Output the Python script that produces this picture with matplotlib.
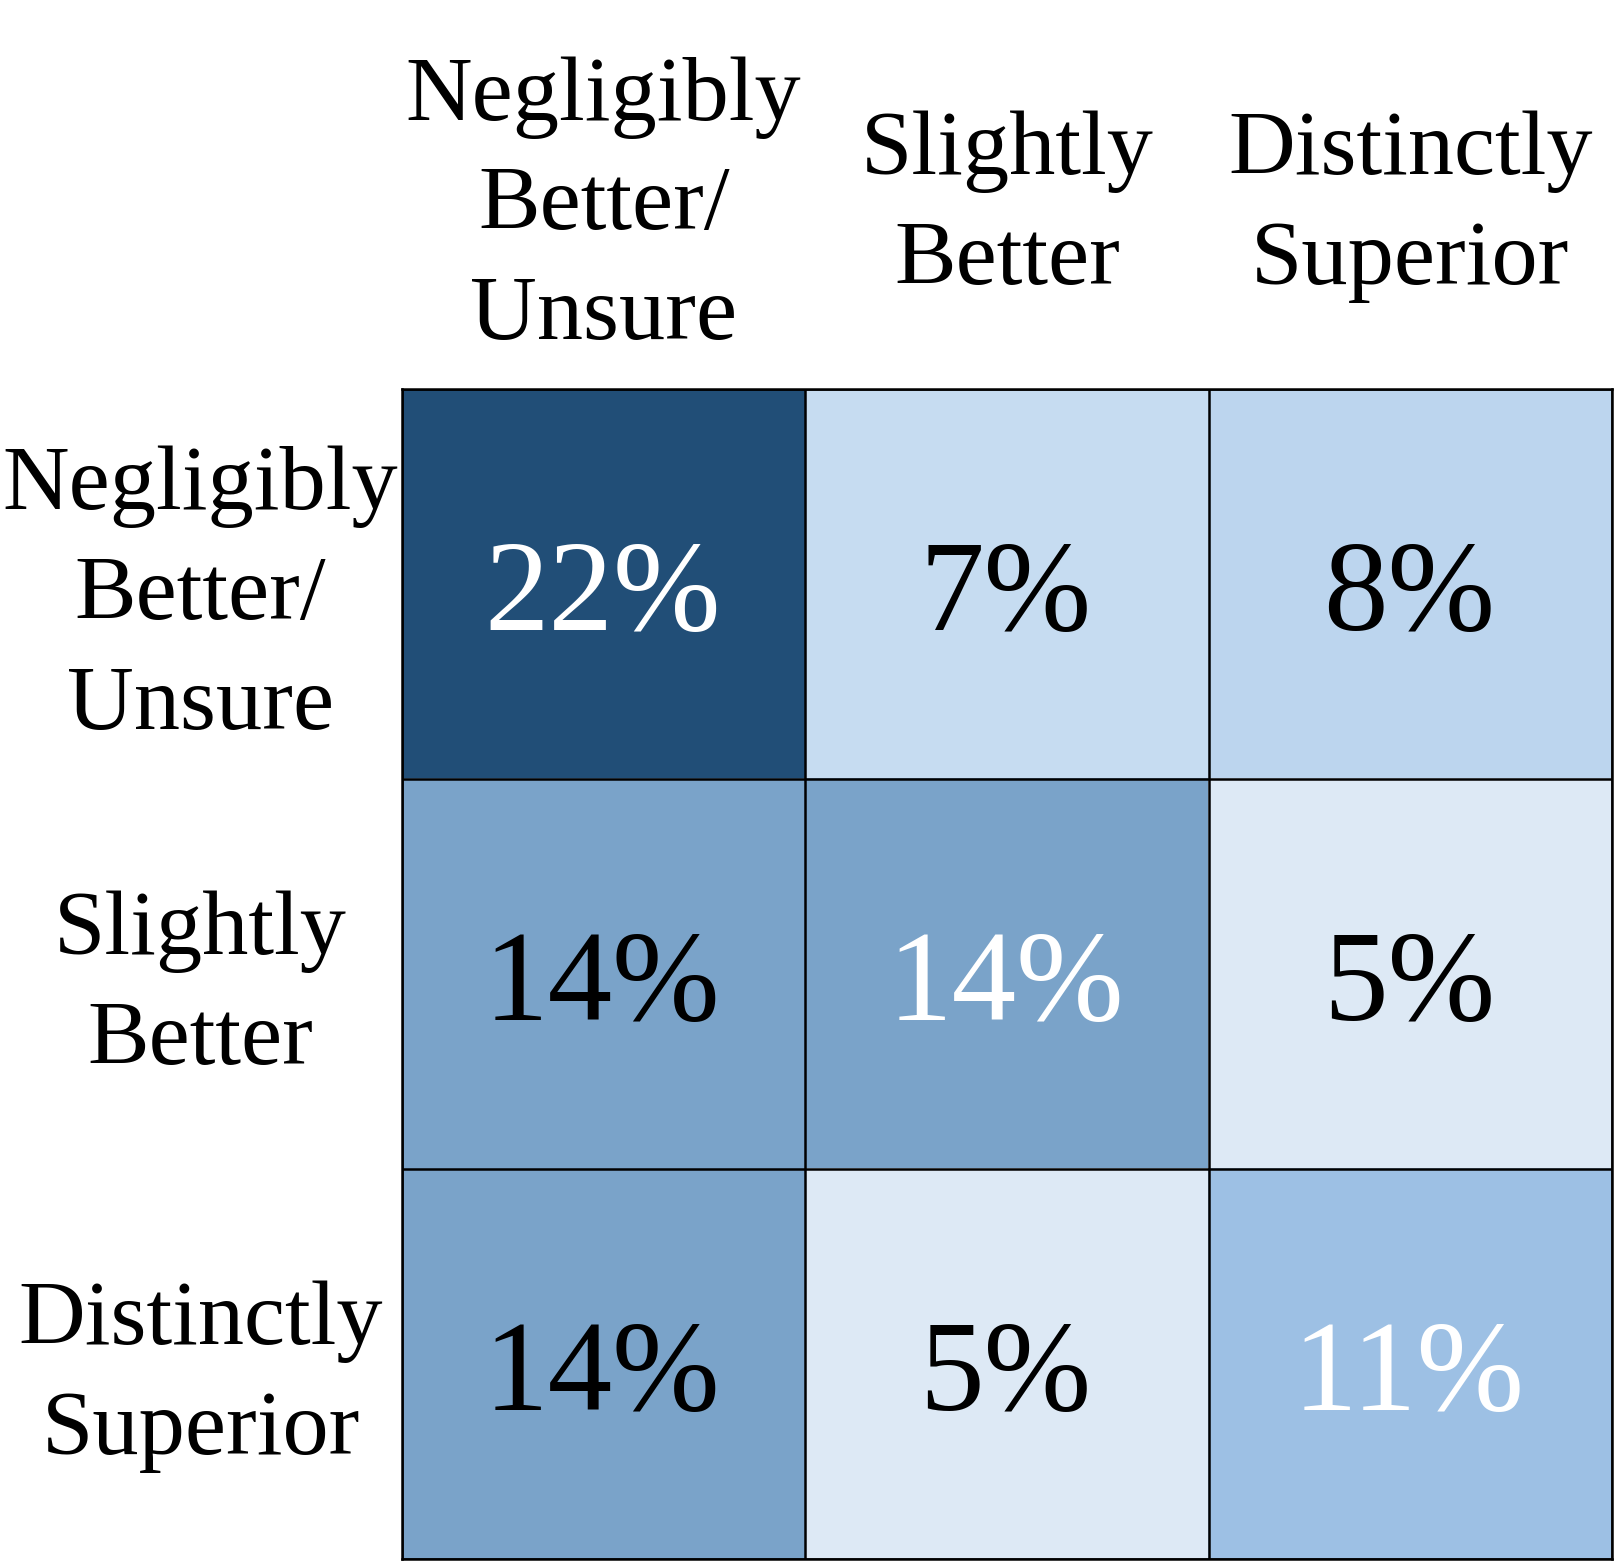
import numpy as np
import matplotlib
matplotlib.use("Agg")
import matplotlib.pyplot as plt
from matplotlib.colors import LinearSegmentedColormap, Normalize
from matplotlib.transforms import offset_copy, ScaledTranslation

row_labels = ["Negligibly\nBetter/\nUnsure", "Slightly\nBetter", "Distinctly\nSuperior"]
col_labels = ["Negligibly\nBetter/\nUnsure", "Slightly\nBetter", "Distinctly\nSuperior"]
values = np.array([
    [22, 7, 8],
    [14, 14, 5],
    [14, 5, 11],
])
text_colors = [
    ["white", "black", "black"],
    ["black", "white", "black"],
    ["black", "black", "white"],
]

# colour ramp (light -> dark)
cmap = LinearSegmentedColormap.from_list(
    "custom_blues",
    [(0.0, "#dde9f5"), (2 / 17, "#c6dcf1"), (3 / 17, "#bcd5ee"),
     (6 / 17, "#9dc0e4"), (9 / 17, "#7aa3c9"), (1.0, "#214e77")],
)
norm = Normalize(vmin=5, vmax=22)

plt.rcParams['font.family'] = ['Liberation Serif', 'DejaVu Serif']

fig = plt.figure(figsize=(16.14, 15.62), dpi=100)
ax = fig.add_axes([402 / 1614, 1 - 1559 / 1562, 1210 / 1614, 1170 / 1562])

ax.imshow(values, cmap=cmap, norm=norm, aspect='auto')

txt_tr = offset_copy(ax.transData, fig=fig, x=-1, y=-11, units='points')
for i in range(values.shape[0]):
    for j in range(values.shape[1]):
        ax.text(j, i, f"{values[i, j]}%", ha='center', va='center',
                fontsize=93, color=text_colors[i][j], transform=txt_tr)

# grid lines
ax.set_xticks(np.arange(-0.5, values.shape[1], 1), minor=True)
ax.set_yticks(np.arange(-0.5, values.shape[0], 1), minor=True)
ax.grid(which='minor', color='black', linewidth=1.8)
ax.tick_params(which='minor', length=0)

ax.set_xticks(np.arange(values.shape[1]))
ax.set_yticks(np.arange(values.shape[0]))
ax.set_xticklabels(col_labels, fontsize=66.5, ha='center', va='center', linespacing=1.43)
ax.set_yticklabels(row_labels, fontsize=66.5, ha='center', va='center', linespacing=1.43)
ax.xaxis.tick_top()
ax.tick_params(axis='x', which='major', length=0, pad=131)
ax.tick_params(axis='y', which='major', length=0, pad=145)

shift = ScaledTranslation(0, -9 / 72, fig.dpi_scale_trans)
for lab in ax.get_yticklabels():
    lab.set_transform(lab.get_transform() + shift)

for s in ax.spines.values():
    s.set_linewidth(1.8)
    s.set_color('black')

fig.savefig("out.png", dpi=100)
